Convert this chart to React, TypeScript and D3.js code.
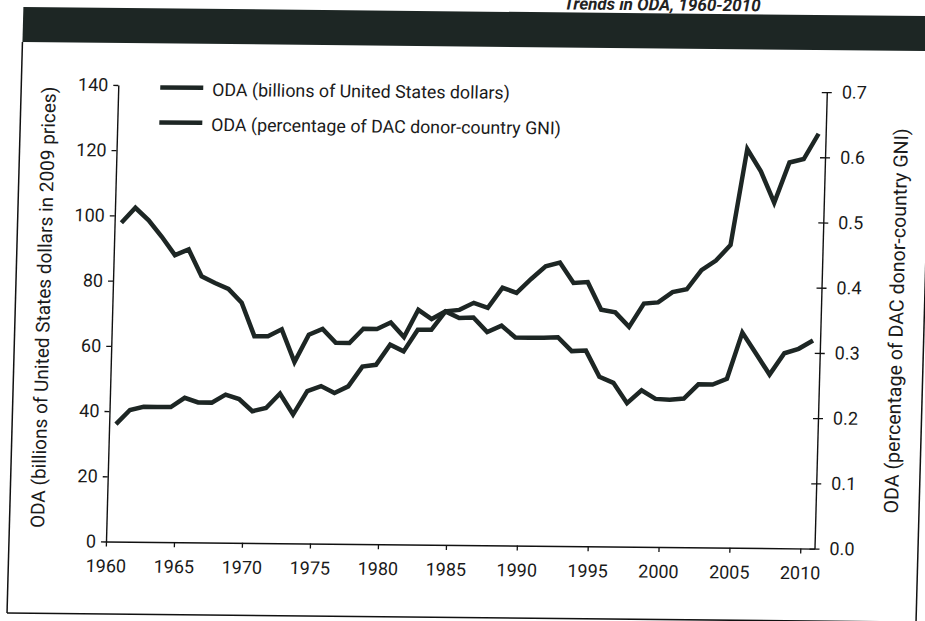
import React, { useEffect, useRef } from "react";
import * as d3 from "d3";

// ---- data ----
const firstYear = 1960;
const odaBillions = [36.0, 40.4, 41.4, 41.4, 41.4, 44.3, 42.9, 42.9, 45.4, 44.1, 40.4, 41.4, 45.9, 39.5, 46.7, 48.3, 46.2, 48.3, 54.4, 55.0, 61.2, 59.2, 65.9, 65.9, 71.6, 72.1, 74.3, 72.8, 79.0, 77.5, 81.8, 85.7, 86.9, 80.7, 81.0, 72.6, 71.8, 67.4, 74.6, 75.0, 78.2, 79.1, 85.0, 88.0, 92.8, 122.3, 115.5, 105.9, 118.3, 119.4, 127.2];
const odaPctGni = [0.489, 0.512, 0.493, 0.468, 0.44, 0.449, 0.408, 0.398, 0.389, 0.368, 0.317, 0.317, 0.328, 0.278, 0.32, 0.329, 0.308, 0.308, 0.33, 0.33, 0.34, 0.318, 0.36, 0.346, 0.358, 0.348, 0.349, 0.327, 0.337, 0.319, 0.319, 0.319, 0.32, 0.299, 0.3, 0.26, 0.251, 0.22, 0.24, 0.227, 0.226, 0.228, 0.25, 0.25, 0.259, 0.33, 0.298, 0.266, 0.299, 0.306, 0.319];
const xTickLabels = [1960, 1965, 1970, 1975, 1980, 1985, 1990, 1995, 2000, 2005, 2010];
const leftTicks = [0, 20, 40, 60, 80, 100, 120, 140];
const rightTicks = [0, 0.1, 0.2, 0.3, 0.4, 0.5, 0.6, 0.7];
const legendLabels = ["ODA (billions of United States dollars)", "ODA (percentage of DAC donor-country GNI)"];
const leftTitle = "ODA (billions of United States dollars in 2009 prices)";
const rightTitle = "ODA (percentage of DAC donor-country GNI)";
const pageTitle = "Trends in ODA, 1960-2010";

const FONT = "Roboto, 'Open Sans', sans-serif";
const INK = "#1d2624";

export default function App() {
  const leftRef = useRef<SVGGElement>(null);
  const rightRef = useRef<SVGGElement>(null);
  const bottomRef = useRef<SVGGElement>(null);

  const x = d3.scaleLinear().domain([1960, 1985, 2011]).range([106, 446, 814.5]);
  const yL = d3.scaleLinear().domain([0, 140]).range([541.5, 85]);
  const yR = d3.scaleLinear().domain([0, 0.7]).range([541.5, 85]);

  const rowsA = odaBillions.map((v, i) => ({ year: firstYear + i, v }));
  const rowsB = odaPctGni.map((v, i) => ({ year: firstYear + i, v }));

  // points sit in the middle of each year's slot
  const lineA = d3.line<{ year: number; v: number }>().x((d) => x(d.year + 0.5)).y((d) => yL(d.v));
  const lineB = d3.line<{ year: number; v: number }>().x((d) => x(d.year + 0.5)).y((d) => yR(d.v));

  useEffect(() => {
    const style = (g: d3.Selection<SVGGElement, unknown, null, undefined>) => {
      g.attr("font-family", FONT).attr("font-size", 18);
      g.selectAll("path.domain").attr("stroke", "#111").attr("stroke-width", 1.4);
      g.selectAll(".tick line").attr("stroke", "#111").attr("stroke-width", 1.3);
      g.selectAll(".tick text").attr("fill", "#1a1a1a");
    };
    const gl = d3.select(leftRef.current!);
    gl.call(d3.axisLeft(yL).tickValues(leftTicks).tickSize(5).tickSizeOuter(0).tickPadding(5).tickFormat(d3.format("d")));
    style(gl);

    const gr = d3.select(rightRef.current!);
    gr.call(d3.axisRight(yR).tickValues(rightTicks).tickSize(5).tickSizeOuter(0).tickPadding(10).tickFormat(d3.format(".1f")));
    gr.selectAll(".tick line").attr("x1", -5);
    style(gr);

    const gb = d3.select(bottomRef.current!);
    gb.call(d3.axisBottom(x).tickValues(xTickLabels).tickSize(5).tickSizeOuter(0).tickPadding(13).tickFormat(d3.format("d")));
    style(gb);
  }, []);

  return (
    <svg width={925} height={621} style={{ position: "fixed", left: 0, top: 0, background: "#fff" }}>
      <rect x={0} y={0} width={925} height={621} fill="#fff" />
      <g transform="matrix(1,0.01,-0.027,1,14.607,-1.07)">
        <text x={746} y={5} textAnchor="end" fontFamily={FONT} fontSize={17} fontWeight="bold" fontStyle="italic" fill="#222">
          {pageTitle}
        </text>
        <rect x={9} y={8} width={1000} height={35} fill={INK} />
        <line x1={9} y1={43} x2={9} y2={614} stroke="#111" strokeWidth={1.5} />
        <line x1={9} y1={614} x2={1000} y2={614} stroke="#111" strokeWidth={1.5} />
        <line x1={918} y1={43} x2={918} y2={614} stroke="#111" strokeWidth={1.5} />

        <g ref={leftRef} transform={`translate(${x.range()[0]},0)`} />
        <g ref={rightRef} transform={`translate(${x.range()[2]},0)`} />
        <g ref={bottomRef} transform={`translate(0,${yL.range()[0]})`} />

        <path d={lineA(rowsA) || ""} fill="none" stroke={INK} strokeWidth={4.5} strokeLinejoin="miter" strokeMiterlimit={4} />
        <path d={lineB(rowsB) || ""} fill="none" stroke={INK} strokeWidth={4.5} strokeLinejoin="miter" strokeMiterlimit={4} />

        {legendLabels.map((t, i) => (
          <g key={t} transform={`translate(148,${87 + i * 35})`}>
            <line x1={0} x2={43} y1={0} y2={0} stroke={INK} strokeWidth={4.5} />
            <text x={52} y={8} fontFamily={FONT} fontSize={17.8} fill="#1a1a1a">
              {t}
            </text>
          </g>
        ))}

        <text transform="translate(37,308) rotate(-90)" dy="0.35em" textAnchor="middle" fontFamily={FONT} fontSize={19} fill="#1a1a1a">
          {leftTitle}
        </text>
        <text transform="translate(890,313) rotate(-90)" dy="0.35em" textAnchor="middle" fontFamily={FONT} fontSize={19.6} fill="#1a1a1a">
          {rightTitle}
        </text>
      </g>
    </svg>
  );
}
